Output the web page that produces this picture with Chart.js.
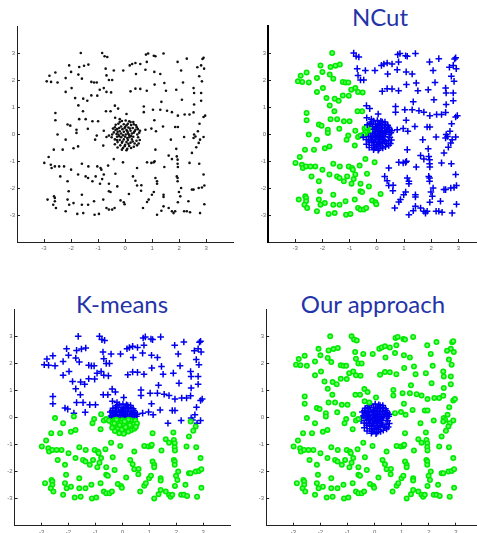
<!DOCTYPE html>
<html>
<head>
<meta charset="utf-8">
<script src="https://cdn.jsdelivr.net/npm/chart.js@4"></script>
<style>
  html, body { margin: 0; padding: 0; background: #fff; overflow: hidden; width: 477px; height: 533px; }
  canvas { position: absolute; }
  .ttl { position: absolute; font-family: Lato, sans-serif; font-weight: 400; font-size: 24px; line-height: 24px;
         color: #2434a8; white-space: nowrap; transform: translateX(-50%); }
</style>
</head>
<body>
<div class="ttl" style="left:380px;top:5px">NCut</div>
<div class="ttl" style="left:122px;top:292px">K-means</div>
<div class="ttl" style="left:373px;top:292px">Our approach</div>
<canvas id="p1" width="240" height="265" style="left:0;top:0"></canvas>
<canvas id="p2" width="260" height="265" style="left:240px;top:0"></canvas>
<canvas id="p3" width="240" height="275" style="left:0;top:270px"></canvas>
<canvas id="p4" width="260" height="275" style="left:240px;top:270px"></canvas>
<script>
// ── tick labels (same on every axis) ──
const tickValues = [-3, -2, -1, 0, 1, 2, 3];
const tickLabels = ['-3', '-2', '-1', '0', '1', '2', '3'];

// ── scattered points, grouped by where NCut / K-means put them ──
// TL: NCut left (green), K-means top (blue)
const ptsTL = [
  [-1.64,3.0],[-2.07,2.54],[-2.58,2.28],[-2.8,2.16],[-2.9,1.95],[-2.74,1.93],[-2.5,1.91],[-2.2,2.07],
  [-2.0,2.3],[-1.7,2.48],[-1.52,2.53],[-1.36,2.57],[-1.73,2.2],[-1.6,2.05],[-1.25,1.93],[-1.15,1.91],
  [-1.05,1.91],[-2.2,1.56],[-1.98,1.7],[-1.85,1.33],[-1.55,1.31],[-1.4,1.23],[-1.25,1.43],[-1.03,1.42],
  [-0.94,1.64],[-0.79,1.7],[-0.69,1.56],[-0.52,1.54],[-1.73,1.06],[-1.56,0.84],[-2.58,0.78],[-2.58,0.51],
  [-1.7,0.55],[-1.46,0.55],[-1.21,0.47],[-1.0,0.47],[-2.13,0.35],[-2.03,0.31],[-0.71,0.84],[-0.54,0.84],
  [-1.8,0.16],[-1.38,0.19]
];
// TR: NCut right (blue), K-means top (blue)
const ptsTR = [
  [-0.85,3.0],[-0.76,2.88],[-0.66,2.85],[0.77,2.94],[0.85,2.98],[0.8,2.67],[1.06,2.9],[1.12,2.88],
  [1.42,2.98],[1.94,2.67],[2.28,2.79],[2.86,2.78],[2.9,2.82],[2.81,2.54],[2.67,2.47],[2.92,2.42],
  [-0.72,2.42],[-0.69,2.17],[-0.6,2.0],[-0.48,2.0],[-0.42,2.35],[-0.07,2.35],[0.17,2.54],[0.26,2.59],
  [0.38,2.63],[0.56,2.59],[0.4,2.22],[0.75,2.38],[1.08,2.3],[1.3,2.22],[2.07,2.35],[2.14,1.91],
  [2.74,2.14],[2.84,1.95],[0.2,1.58],[0.38,1.68],[0.56,1.67],[0.8,1.6],[1.09,1.83],[1.45,1.89],
  [1.51,1.6],[1.89,1.64],[2.53,1.7],[2.55,1.52],[2.81,1.52],[2.81,1.23],[2.1,1.27],[-0.38,1.05],
  [-0.26,0.94],[0.05,0.74],[-0.2,0.55],[-0.37,0.6],[0.69,1.02],[0.69,0.81],[1.03,0.9],[1.3,0.9],
  [1.34,1.19],[1.55,0.86],[1.73,0.81],[1.95,0.68],[2.2,0.72],[2.38,0.72],[2.55,1.09],[2.53,0.8],
  [1.08,0.51],[2.75,0.38],[2.9,0.63],[2.96,0.68],[0.75,0.16],[0.97,0.2],[1.14,0.1],[1.4,0.28],
  [1.85,0.26],[1.95,0.26],[2.18,-0.11],[2.55,-0.02],[2.6,-0.09],[2.69,0.1],[2.77,-0.21],[2.9,-0.11],
  [1.69,-0.21]
];
// BL: NCut left (green), K-means bottom (green)
const ptsBL = [
  [-2.5,-0.02],[-2.2,-0.21],[-1.8,0.04],[-1.05,-0.06],[-1.11,-0.21],[-0.79,0.12],[-0.69,-0.11],[-0.6,-0.06],
  [-2.64,-0.58],[-2.31,-0.58],[-1.91,-0.53],[-1.74,-0.46],[-0.81,-0.43],[-2.99,-1.07],[-2.83,-0.85],[-2.75,-1.14],
  [-2.72,-1.26],[-2.6,-1.2],[-2.44,-1.2],[-2.26,-1.2],[-2.4,-1.57],[-2.0,-1.32],[-2.13,-1.75],[-1.6,-1.1],
  [-1.36,-1.2],[-1.74,-1.5],[-1.46,-1.57],[-1.37,-1.63],[-1.03,-1.2],[-0.91,-1.26],[-0.88,-1.32],[-0.79,-1.5],
  [-0.85,-1.67],[-1.09,-1.57],[-0.63,-1.17],[-0.42,-0.93],[-0.36,-1.47],[-0.29,-1.94],[-0.6,-1.84],[-1.21,-1.75],
  [-0.93,-1.84],[-0.08,-1.05],[-2.09,-2.12],[-1.91,-2.56],[-2.13,-2.43],[-2.07,-2.62],[-1.6,-2.25],[-1.6,-2.62],
  [-1.37,-2.62],[-1.15,-2.49],[-0.6,-2.12],[-0.54,-2.15],[-0.81,-2.43],[-0.69,-2.74],[-0.6,-2.8],[-0.48,-2.8],
  [-0.39,-2.74],[-0.17,-2.46],[-0.05,-2.53],[-0.02,-2.6],[0.14,-2.22],[-2.87,-2.43],[-2.63,-2.31],[-2.6,-2.37],
  [-2.6,-2.49],[-2.66,-2.62],[-2.56,-2.74],[-2.2,-2.86],[-1.77,-2.96],[-1.55,-2.93],[-1.13,-2.99],[-0.97,-2.96]
];
// BR: NCut right (blue), K-means bottom (green)
const ptsBR = [
  [2.53,-0.15],[1.12,-0.58],[1.89,-0.55],[2.47,-0.7],[2.63,-0.49],[2.72,-0.33],[0.44,-1.26],[0.29,-1.57],
  [0.38,-1.73],[0.44,-1.91],[0.6,-1.9],[0.81,-1.05],[0.97,-1.07],[1.06,-1.05],[1.09,-1.01],[1.45,-1.22],
  [1.61,-0.8],[1.73,-0.93],[1.91,-0.83],[1.94,-0.95],[1.94,-1.1],[1.95,-1.22],[2.38,-1.07],[2.74,-1.1],
  [2.9,-1.5],[1.12,-1.63],[1.18,-1.75],[1.18,-1.84],[1.91,-1.57],[1.94,-1.63],[1.94,-1.75],[0.59,-2.1],
  [0.66,-2.74],[0.81,-2.52],[0.87,-2.43],[0.99,-2.25],[1.06,-2.15],[1.18,-2.99],[1.34,-2.84],[1.42,-2.68],
  [1.42,-2.25],[1.42,-2.33],[1.61,-2.74],[1.73,-2.86],[1.79,-2.93],[1.85,-2.86],[1.99,-2.15],[2.04,-2.31],
  [2.07,-2.0],[1.95,-2.53],[2.18,-2.86],[2.28,-2.86],[2.4,-2.9],[2.34,-2.49],[2.47,-2.06],[2.53,-2.06],
  [2.72,-2.0],[2.84,-1.98],[2.93,-1.91],[2.77,-2.93],[2.93,-2.6]
];

// ── dense cluster at the origin ──
// top part (blue in NCut and K-means)
const clusterTop = [
  [-0.12,0.48],[0.02,0.5],[0.15,0.47],[0.3,0.44],[-0.25,0.38],[-0.05,0.36],[0.1,0.38],[0.22,0.33],
  [0.4,0.32],[-0.35,0.34],[-0.15,0.28],[0.0,0.26],[0.12,0.24],[0.28,0.22],[0.47,0.18],[-0.1,0.18],
  [0.05,0.15],[0.2,0.12],[0.35,0.1],[0.52,0.05],[-0.05,0.08],[0.1,0.04],[0.25,0.02],[0.45,-0.02],
  [-0.15,0.02],[0.02,-0.02],[0.15,-0.04],[-0.08,-0.05],[0.32,0.36],[0.18,0.2],[0.05,0.32],[0.08,0.1],
  [-0.02,0.22],[0.32,0.05],[0.2,0.44],[-0.2,0.44],[0.43,0.25],[0.12,0.0],[0.55,0.12],[0.38,0.16]
];
// left edge (green in NCut, blue in K-means)
const clusterEdge = [
  [-0.3,0.18],[-0.36,0.15],[-0.28,0.08],[-0.32,0.0],[-0.22,0.22],[-0.42,0.06],[-0.25,-0.02],
  [-0.45,0.2],[-0.38,0.25],[-0.48,-0.02],[-0.2,0.1]
];
// bottom part (blue in NCut, green in K-means)
const clusterBottom = [
  [-0.3,-0.1],[-0.15,-0.12],[0.0,-0.1],[0.15,-0.12],[0.3,-0.1],[0.48,-0.12],[-0.38,-0.2],[-0.2,-0.22],
  [-0.05,-0.2],[0.1,-0.22],[0.25,-0.2],[0.42,-0.25],[-0.28,-0.3],[-0.12,-0.32],[0.05,-0.3],[0.2,-0.32],
  [0.35,-0.35],[-0.38,-0.38],[-0.18,-0.42],[0.0,-0.4],[0.15,-0.44],[0.32,-0.47],[-0.08,-0.52],[0.08,-0.55],
  [0.22,-0.52],[-0.28,-0.5],[0.44,-0.42],[-0.5,-0.12],[0.54,-0.22],[-0.12,-0.58],[0.05,-0.6],[-0.22,-0.08],
  [0.22,-0.08],[0.08,-0.15],[-0.1,-0.28],[0.28,-0.28],[-0.02,-0.45],[0.12,-0.36],[-0.3,-0.22],[0.5,-0.35]
];

const xy = arr => arr.map(p => ({ x: p[0], y: p[1] }));

// ── marker styles ──
const BLACK = { pointStyle: 'circle', pointRadius: 1.3, pointBorderWidth: 0, pointBackgroundColor: '#111' };
const GREEN = { pointStyle: 'circle', pointRadius: 2.2, pointBorderWidth: 1.6,
                pointBorderColor: '#00ea00', pointBackgroundColor: '#66ff66' };
const BLUE  = { pointStyle: 'cross', pointRadius: 3.3, pointBorderWidth: 1.5, pointBorderColor: '#0000ee' };

function ds(points, style) { return Object.assign({ data: xy(points), showLine: false }, style); }

function makePanel(id, datasets, box, yBorderWidth) {
  const axis = (fit) => ({
    type: 'linear', min: -4, max: 4,
    afterBuildTicks: s => { s.ticks = tickValues.map(v => ({ value: v })); },
    afterFit: fit,
    border: { color: '#222', width: 1 },
    grid: { drawOnChartArea: false, tickLength: -3, color: '#222', lineWidth: 1 },
    ticks: {
      color: '#666', font: { family: "'Liberation Sans', sans-serif", size: 6 },
      maxRotation: 0, autoSkip: false,
      callback: (v, i) => tickLabels[i]
    }
  });
  const x = axis(s => { s.height = box.h - box.bottom; });
  x.ticks.padding = 6;
  const y = axis(s => { s.width = box.left; });
  y.ticks.padding = 5;
  if (yBorderWidth) y.border = { color: '#000', width: yBorderWidth };

  new Chart(document.getElementById(id), {
    type: 'scatter',
    data: { datasets },
    options: {
      responsive: false,
      animation: false,
      layout: { padding: { left: 0, top: box.top, right: box.w - box.right, bottom: 0 } },
      plugins: { legend: { display: false }, tooltip: { enabled: false } },
      scales: { x, y }
    }
  });
}

// panel 1: raw data
makePanel('p1', [
  ds([...ptsTL, ...ptsTR, ...ptsBL, ...ptsBR, ...clusterTop, ...clusterEdge, ...clusterBottom], BLACK)
], { w: 240, h: 265, left: 17, top: 26, right: 233.3, bottom: 242 });

// panel 2: NCut
makePanel('p2', [
  ds([...ptsTR, ...ptsBR, ...clusterTop, ...clusterBottom], BLUE),
  ds([...ptsTL, ...ptsBL, ...clusterEdge], GREEN)
], { w: 260, h: 265, left: 28, top: 26, right: 245.6, bottom: 242 }, 2);

// panel 3: K-means
makePanel('p3', [
  ds([...ptsBL, ...ptsBR, ...clusterBottom], GREEN),
  ds([...ptsTL, ...ptsTR, ...clusterTop, ...clusterEdge], BLUE)
], { w: 240, h: 275, left: 14.6, top: 39.3, right: 230.2, bottom: 255.7 });

// panel 4: our approach
makePanel('p4', [
  ds([...ptsTL, ...ptsTR, ...ptsBL, ...ptsBR], GREEN),
  ds([...clusterTop, ...clusterEdge, ...clusterBottom], BLUE)
], { w: 260, h: 275, left: 26.2, top: 39.3, right: 243.1, bottom: 255.7 });
</script>
</body>
</html>
